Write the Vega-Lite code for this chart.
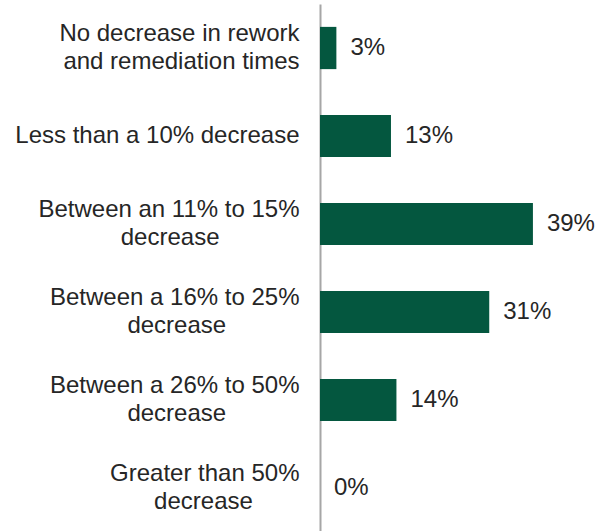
{
  "$schema": "https://vega.github.io/schema/vega-lite/v6.json",
  "width": 291,
  "height": 528,
  "autosize": "none",
  "padding": {"left": 320, "top": 4, "right": 0, "bottom": 0},
  "background": "white",
  "config": {"view": {"stroke": null}, "font": "Liberation Sans"},
  "data": {
    "values": [
      {"category": "No decrease in rework|and remediation times", "value": 0.03},
      {"category": "Less than a 10% decrease", "value": 0.13},
      {"category": "Between an 11% to 15%|decrease", "value": 0.39},
      {"category": "Between a 16% to 25%|decrease", "value": 0.31},
      {"category": "Between a 26% to 50%|decrease", "value": 0.14},
      {"category": "Greater than 50%|decrease", "value": 0.0}
    ]
  },
  "encoding": {
    "y": {
      "field": "category",
      "type": "nominal",
      "sort": null,
      "scale": {"paddingInner": 0.52, "paddingOuter": 0.26},
      "axis": {
        "title": null,
        "labelExpr": "indexof(datum.label, '|') < 0 ? datum.label : [split(datum.label, '|')[0], pad(split(datum.label, '|')[1], length(split(datum.label, '|')[0]) - 1, '\u00a0') + '\u2060']",
        "labelFont": "Liberation Sans",
        "labelFontSize": 24,
        "labelLineHeight": 28,
        "labelColor": "#262626",
        "labelPadding": 21,
        "labelLimit": 0,
        "labelOffset": {"condition": {"test": "indexof(datum.value, '|') >= 0", "value": -14}, "value": 0},
        "ticks": false,
        "domainColor": "#a6a6a6",
        "domainWidth": 2
      }
    },
    "x": {
      "field": "value",
      "type": "quantitative",
      "scale": {"domain": [0, 0.533]},
      "axis": null
    }
  },
  "layer": [
    {"mark": {"type": "bar", "color": "#04573f"}},
    {
      "mark": {"type": "text", "align": "left", "baseline": "middle", "dx": 14, "fontSize": 24, "color": "#262626", "font": "Liberation Sans"},
      "encoding": {"text": {"field": "value", "type": "quantitative", "format": ".0%"}}
    }
  ]
}
